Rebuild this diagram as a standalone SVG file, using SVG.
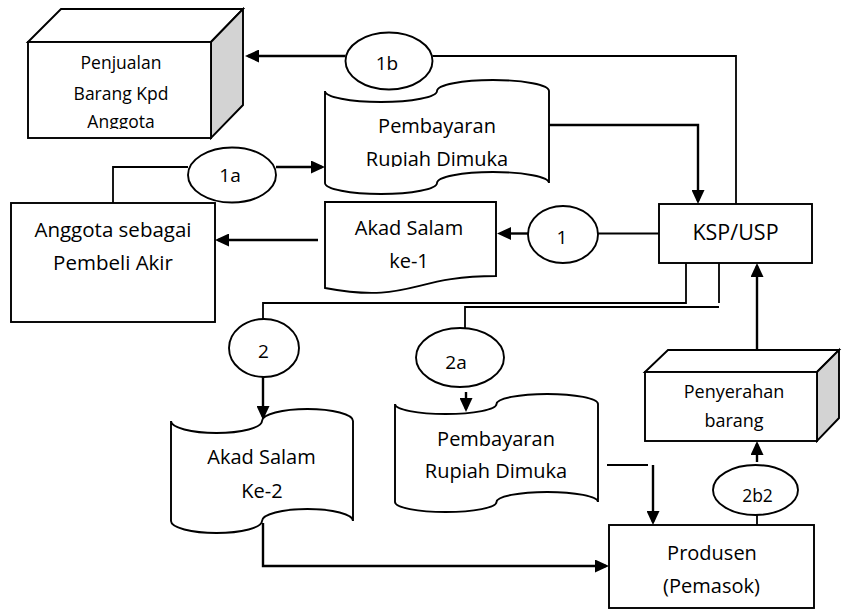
<svg xmlns="http://www.w3.org/2000/svg" width="848" height="610" viewBox="0 0 848 610">
  <style>
    .shape { fill: #fff; stroke: #000; stroke-width: 1.9; stroke-linejoin: miter; }
    .side { fill: #d3d3d3; stroke: #000; stroke-width: 1.9; }
    .line { fill: none; stroke: #000; stroke-width: 1.8; }
    .arrow { fill: none; stroke: #000; stroke-width: 2.4; marker-end: url(#ah); }
    text { font-family: "Open Sans", "Liberation Sans", sans-serif; fill: #000; text-anchor: middle; }
  </style>
  <defs>
    <marker id="ah" markerUnits="userSpaceOnUse" markerWidth="14" markerHeight="13" refX="11" refY="6.5" orient="auto">
      <path d="M0,0 L14,6.5 L0,13 Z" fill="#000"/>
    </marker>
    <clipPath id="clipPenjualan"><rect x="28" y="42" width="183" height="87"/></clipPath>
    <clipPath id="clipBayar1"><rect x="325" y="80" width="224" height="87"/></clipPath>
  </defs>

  <rect width="848" height="610" fill="#fff"/>

  <!-- connectors -->
  <g id="connectors">
    <path class="arrow" d="M345.5,56 H248"/>
    <path class="line" d="M432.5,56 H736 V204"/>
    <path class="arrow" d="M549,125 H698 V201"/>
    <path class="arrow" d="M276,167 H322"/>
    <path class="line" d="M113,203 V167 H188"/>
    <path class="arrow" d="M318,240 H218"/>
    <path class="line" d="M659,233.5 H598"/>
    <path class="arrow" d="M528,233.5 H500"/>
    <path class="line" d="M686,263 V303 H263 V319"/>
    <path class="arrow" d="M263,377 V417"/>
    <path class="line" d="M719,263 V303"/>
    <path class="line" d="M719,307 H465 V328"/>
    <path class="arrow" d="M466,392 V409"/>
    <path class="arrow" d="M263,523 V566 H606"/>
    <path class="line" d="M607,465 H648"/>
    <path class="arrow" d="M653,465 V522"/>
    <path class="arrow" d="M757,462 V444"/>
    <path class="line" d="M757,515 V525"/>
    <path class="arrow" d="M757,350 V266"/>
  </g>

  <!-- store: sales to members -->
  <g id="penjualan">
    <polygon class="shape" points="28,42 61,9 243,9 211,42"/>
    <polygon class="side" points="211,42 243,9 243,105 211,138"/>
    <rect class="shape" x="28" y="42" width="183" height="96"/>
    <g clip-path="url(#clipPenjualan)" font-size="17.5">
      <text x="121" y="69">Penjualan</text>
      <text x="121" y="100">Barang Kpd</text>
      <text x="121" y="128">Anggota</text>
    </g>
  </g>

  <g id="c1b">
    <ellipse class="shape" cx="389" cy="61" rx="43.5" ry="28.5"/>
    <text x="387" y="70" font-size="19">1b</text>
  </g>

  <!-- punched tape: advance payment (top) -->
  <g id="pembayaran1">
    <path class="shape" d="M325,91 A56,11 0 0 0 437,91 A56,11 0 0 1 549,91 L549,183 A56,11 0 0 0 437,183 A56,11 0 0 1 325,183 Z"/>
    <g clip-path="url(#clipBayar1)" font-size="20">
      <text x="437" y="133">Pembayaran</text>
      <text x="437" y="166">Rupiah Dimuka</text>
    </g>
  </g>

  <g id="c1a">
    <ellipse class="shape" cx="232" cy="175" rx="44" ry="27.5"/>
    <text x="230" y="182" font-size="19">1a</text>
  </g>

  <g id="anggota">
    <rect class="shape" x="11" y="203" width="204" height="119"/>
    <text x="113" y="237" font-size="20.5">Anggota sebagai</text>
    <text x="113" y="270" font-size="20.5">Pembeli Akir</text>
  </g>

  <!-- document: first salam contract -->
  <g id="akad1">
    <path class="shape" d="M325,202 H496 V276 C410.5,276 410.5,304 325,288 Z"/>
    <text x="409" y="235" font-size="20">Akad Salam</text>
    <text x="409" y="268" font-size="20">ke-1</text>
  </g>

  <g id="c1">
    <ellipse class="shape" cx="563" cy="234.5" rx="35" ry="28.5"/>
    <text x="562" y="244" font-size="19">1</text>
  </g>

  <g id="ksp">
    <rect class="shape" x="659" y="204" width="153" height="59"/>
    <text x="735.5" y="240" font-size="21.5">KSP/USP</text>
  </g>

  <g id="c2">
    <ellipse class="shape" cx="264" cy="348" rx="35" ry="29"/>
    <text x="263.5" y="358" font-size="19">2</text>
  </g>

  <g id="c2a">
    <ellipse class="shape" cx="460" cy="357.5" rx="44" ry="29.5"/>
    <text x="456" y="369" font-size="19">2a</text>
  </g>

  <!-- punched tape: second salam contract -->
  <g id="akad2">
    <path class="shape" d="M171,421 A45.5,12 0 0 0 262,421 A45.5,12 0 0 1 353,421 L353,521 A45.5,12 0 0 0 262,521 A45.5,12 0 0 1 171,521 Z"/>
    <text x="261.5" y="464" font-size="20">Akad Salam</text>
    <text x="262" y="498" font-size="20">Ke-2</text>
  </g>

  <!-- punched tape: advance payment (bottom) -->
  <g id="pembayaran2">
    <path class="shape" d="M395,404 A50.75,10 0 0 0 496.5,404 A50.75,10 0 0 1 598,404 L598,502 A50.75,10 0 0 0 496.5,502 A50.75,10 0 0 1 395,502 Z"/>
    <text x="496" y="446" font-size="20">Pembayaran</text>
    <text x="496" y="478" font-size="20">Rupiah Dimuka</text>
  </g>

  <g id="penyerahan">
    <polygon class="shape" points="645,372 668,350 839,350 817,372"/>
    <polygon class="side" points="817,372 839,350 839,418 817,441"/>
    <rect class="shape" x="645" y="372" width="172" height="69"/>
    <text x="734" y="398" font-size="18">Penyerahan</text>
    <text x="734" y="427" font-size="18">barang</text>
  </g>

  <g id="c2b2">
    <ellipse class="shape" cx="755.5" cy="490" rx="42.5" ry="25"/>
    <text x="757.5" y="502" font-size="17.5">2b2</text>
  </g>

  <g id="produsen">
    <rect class="shape" x="609" y="525" width="205" height="83"/>
    <text x="712" y="560" font-size="20">Produsen</text>
    <text x="711.5" y="593" font-size="20">(Pemasok)</text>
  </g>
</svg>
